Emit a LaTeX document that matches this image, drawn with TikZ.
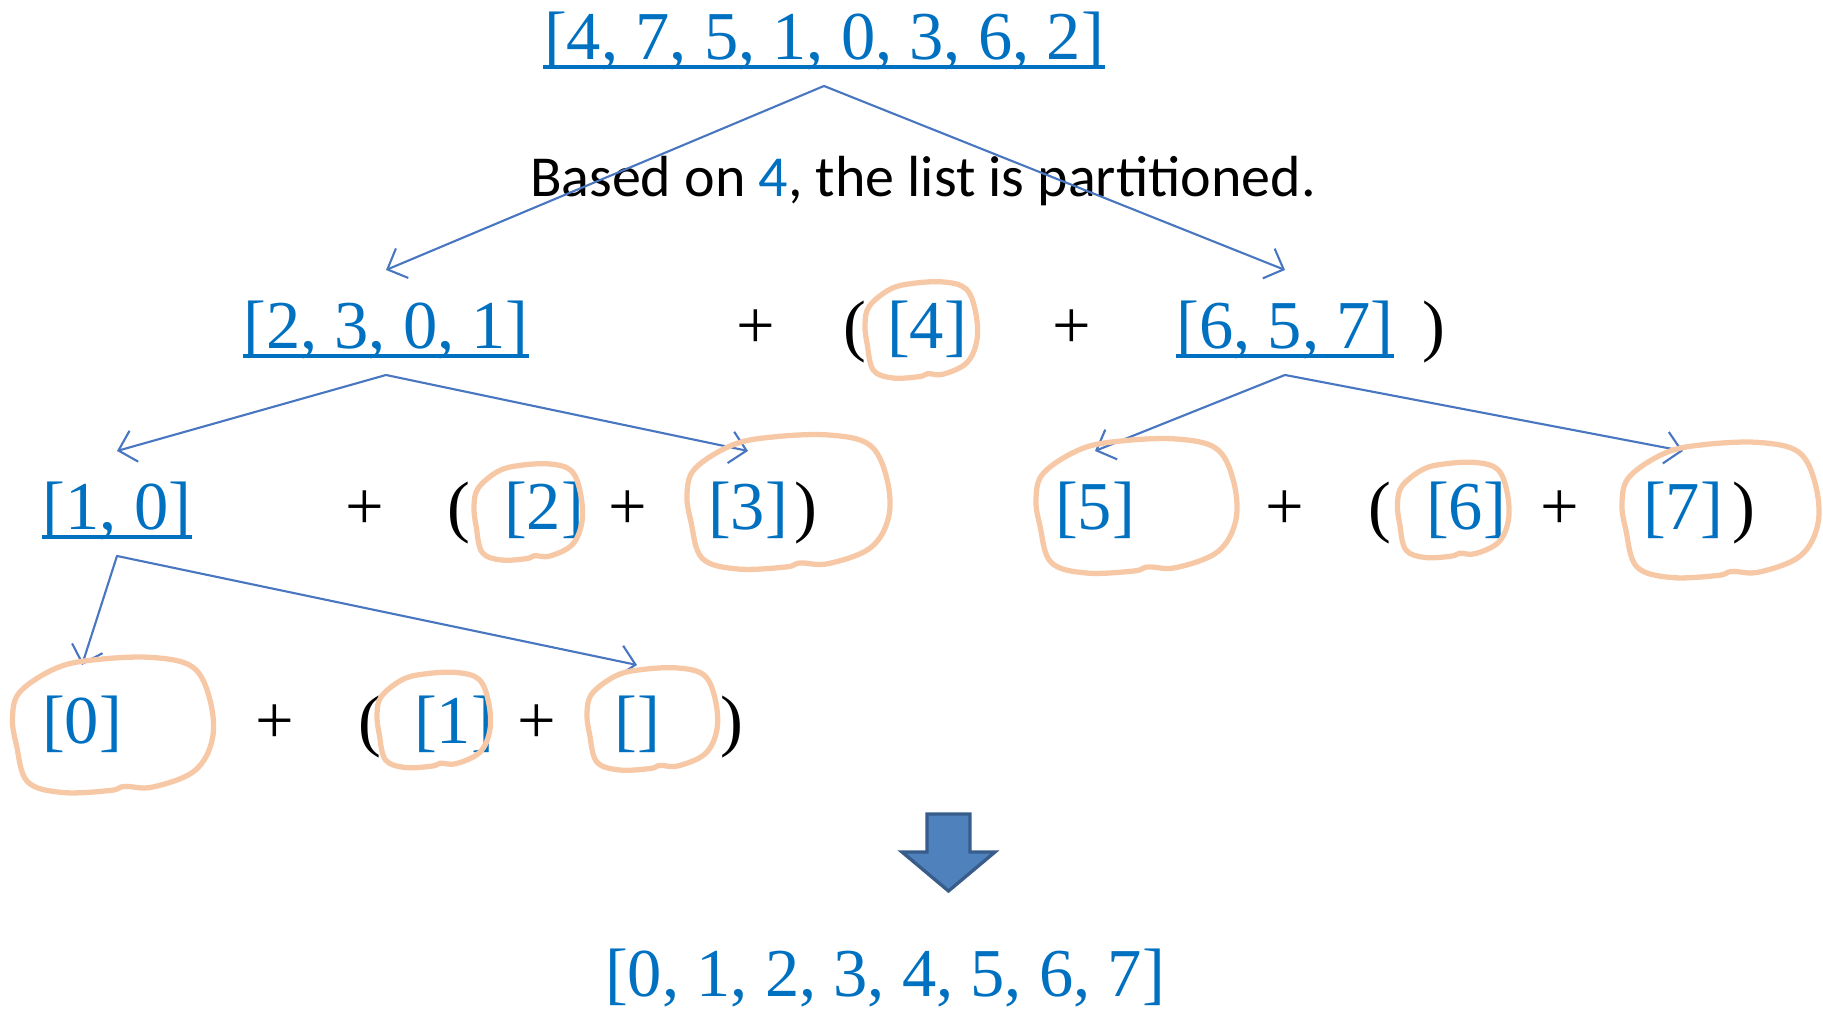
\documentclass[tikz,border=0pt]{standalone}
\usepackage{fontspec}
\setmainfont{Liberation Serif}
\newfontfamily\calibri{Carlito}
\usepackage{tikz}
\usetikzlibrary{arrows.meta}
\usepackage{xcolor}
\definecolor{listblue}{RGB}{0,112,192}
\definecolor{linkblue}{RGB}{72,118,192}
\definecolor{peach}{RGB}{247,200,166}
\definecolor{arrowfill}{RGB}{79,129,189}
\definecolor{arrowline}{RGB}{56,93,138}
% hand drawn ring: centre x, centre y, half width, half height
\newcommand{\scribble}[4]{\draw[scribble,shift={(#1,#2)},xscale=#3,yscale=#4]
  plot[smooth cycle,tension=0.6] coordinates{(-0.92,0.5) (-0.55,0.85) (-0.15,0.97) (0.4,1) (0.8,0.86)
  (0.97,0.4) (1,-0.2) (0.82,-0.68) (0.4,-0.92) (0.12,-0.91) (-0.02,-0.97) (-0.5,-1) (-0.85,-0.84) (-0.96,-0.3) (-1,0.12)};}

\begin{document}
\begin{tikzpicture}[>={Straight Barb[length=1.6mm,width=3.2mm]},line cap=round,
  lst/.style={text=listblue,font=\fontsize{19.5}{22}\selectfont,inner sep=0pt,anchor=base},
  op/.style={font=\fontsize{19.5}{22}\selectfont,inner sep=0pt,anchor=base},
  link/.style={->,linkblue,line width=0.6pt},
  uline/.style={listblue,line width=0.95pt,line cap=butt},
  scribble/.style={peach,line width=1.5pt,line join=round}]
\useasboundingbox (0,0) rectangle (18.23,10.11);
\node[lst] (all) at (8.24,9.51) {[4, 7, 5, 1, 0, 3, 6, 2]};
\node[font=\calibri\fontsize{16.5}{18}\selectfont,inner sep=0pt,anchor=base] (note) at (9.23,8.14)
  {Based on \textcolor{listblue}{4}, the list is partitioned.};
% second row
\node[lst] (lo) at (3.86,6.62) {[2, 3, 0, 1]};
\node[op] (pa) at (7.56,6.62) {+};
\node[op] (oa) at (8.55,6.62) {(};
\node[lst] (pivot) at (9.27,6.62) {[4]};
\node[op] (pb) at (10.72,6.62) {+};
\node[lst] (hi) at (12.85,6.62) {[6, 5, 7]};
\node[op] (ca) at (14.34,6.62) {)};
% third row
\node[lst] (lolo) at (1.17,4.81) {[1, 0]};
\node[op] (pc) at (3.65,4.81) {+};
\node[op] (ob) at (4.59,4.81) {(};
\node[lst] (two) at (5.44,4.81) {[2]};
\node[op] (pd) at (6.28,4.81) {+};
\node[lst] (three) at (7.48,4.81) {[3]};
\node[op] (cb) at (8.06,4.81) {)};
\node[lst] (five) at (10.95,4.81) {[5]};
\node[op] (pe) at (12.85,4.81) {+};
\node[op] (oc) at (13.80,4.81) {(};
\node[lst] (six) at (14.66,4.81) {[6]};
\node[op] (pf) at (15.60,4.81) {+};
\node[lst] (seven) at (16.83,4.81) {[7]};
\node[op] (cc) at (17.44,4.81) {)};
% fourth row
\node[lst] (zero) at (0.82,2.67) {[0]};
\node[op] (pg) at (2.75,2.67) {+};
\node[op] (od) at (3.70,2.67) {(};
\node[lst] (one) at (4.54,2.67) {[1]};
\node[op] (ph) at (5.37,2.67) {+};
\node[lst] (empty) at (6.37,2.67) {[]};
\node[op] (cd) at (7.32,2.67) {)};
\node[lst] (sorted) at (8.85,0.14) {[0, 1, 2, 3, 4, 5, 6, 7]};
\foreach \n in {all,lo,hi,lolo}
  \draw[uline] ([yshift=-0.07cm]\n.base west) -- ([yshift=-0.07cm]\n.base east);
\draw[link] ([yshift=-0.26cm]all.base) -- ([yshift=0.79cm]lo.base);
\draw[link] ([yshift=-0.26cm]all.base) -- ([yshift=0.79cm]hi.base);
\draw[link] ([yshift=-0.26cm]lo.base) -- ([yshift=0.79cm]lolo.base);
\draw[link] ([yshift=-0.26cm]lo.base) -- ([yshift=0.79cm]three.base);
\draw[link] ([yshift=-0.26cm]hi.base) -- ([yshift=0.79cm]five.base);
\draw[link] ([yshift=-0.26cm]hi.base) -- ([yshift=0.79cm]seven.base);
\draw[link] ([yshift=-0.26cm]lolo.base) -- ([yshift=0.79cm]zero.base);
\draw[link] ([yshift=-0.26cm]lolo.base) -- ([yshift=0.79cm]empty.base);
\scribble{9.21}{6.81}{0.56}{0.48}
\scribble{5.28}{4.99}{0.54}{0.48}
\scribble{7.88}{5.09}{1.01}{0.67}
\scribble{11.36}{5.05}{1.0}{0.67}
\scribble{14.53}{5.01}{0.555}{0.475}
\scribble{17.20}{5.01}{0.98}{0.675}
\scribble{1.125}{2.86}{1.0}{0.675}
\scribble{4.335}{2.91}{0.565}{0.475}
\scribble{6.52}{2.92}{0.65}{0.51}
\draw[fill=arrowfill,draw=arrowline,line width=0.95pt,line join=miter] (9.27,1.97) -- (9.70,1.97)
  -- (9.70,1.59) -- (9.95,1.59) -- (9.485,1.20) -- (9.02,1.59) -- (9.27,1.59) -- cycle;
\end{tikzpicture}
\end{document}
